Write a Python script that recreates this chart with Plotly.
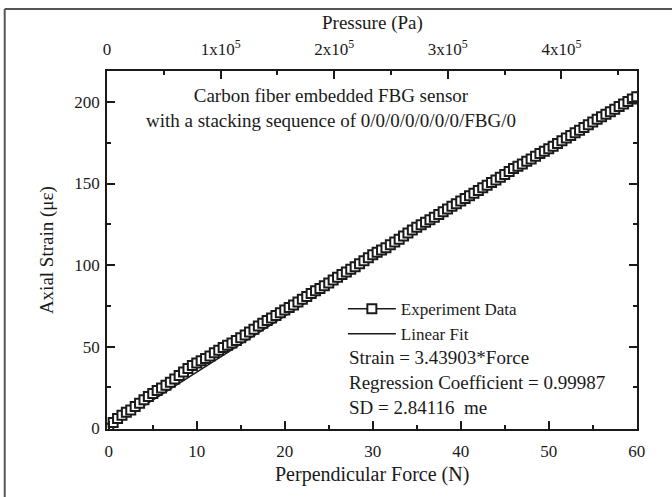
import plotly.graph_objects as go

# ---- data ----
force_n = [0.0, 0.5, 1.0, 1.5, 2.0, 2.5, 3.0, 3.5, 4.0, 4.5, 5.0, 5.5, 6.0, 6.5, 7.0, 7.5, 8.0, 8.5, 9.0, 9.5,
           10.0, 10.5, 11.0, 11.5, 12.0, 12.5, 13.0, 13.5, 14.0, 14.5, 15.0, 15.5, 16.0, 16.5, 17.0, 17.5, 18.0, 18.5, 19.0, 19.5,
           20.0, 20.5, 21.0, 21.5, 22.0, 22.5, 23.0, 23.5, 24.0, 24.5, 25.0, 25.5, 26.0, 26.5, 27.0, 27.5, 28.0, 28.5, 29.0, 29.5,
           30.0, 30.5, 31.0, 31.5, 32.0, 32.5, 33.0, 33.5, 34.0, 34.5, 35.0, 35.5, 36.0, 36.5, 37.0, 37.5, 38.0, 38.5, 39.0, 39.5,
           40.0, 40.5, 41.0, 41.5, 42.0, 42.5, 43.0, 43.5, 44.0, 44.5, 45.0, 45.5, 46.0, 46.5, 47.0, 47.5, 48.0, 48.5, 49.0, 49.5,
           50.0, 50.5, 51.0, 51.5, 52.0, 52.5, 53.0, 53.5, 54.0, 54.5, 55.0, 55.5, 56.0, 56.5, 57.0, 57.5, 58.0, 58.5, 59.0, 59.5,
           60.0]
strain_ue = [0.0, 3.5, 5.9, 8.0, 9.7, 11.2, 13.3, 15.3, 17.4, 19.4, 21.2, 23.1, 24.6, 26.3, 28.2, 30.2, 32.3, 34.4, 36.6, 38.4,
             40.0, 41.4, 42.8, 44.3, 46.2, 47.8, 49.4, 50.9, 52.3, 53.8, 55.4, 57.1, 58.9, 60.7, 62.6, 64.4, 66.0, 67.5, 69.1, 70.8,
             72.4, 74.0, 75.6, 77.3, 79.0, 80.8, 82.6, 84.2, 85.7, 87.4, 89.0, 90.8, 92.6, 94.2, 95.8, 97.4, 99.0, 100.8, 102.6, 104.5,
             106.3, 107.8, 109.2, 110.7, 112.4, 114.1, 115.9, 117.8, 119.6, 121.5, 123.2, 124.8, 126.3, 127.8, 129.3, 131.0, 132.7, 134.4, 136.0, 137.6,
             139.3, 140.9, 142.5, 144.1, 145.7, 147.4, 149.0, 150.6, 152.2, 153.8, 155.6, 157.4, 159.2, 160.6, 162.0, 163.6, 165.1, 166.8, 168.4, 169.8,
             171.3, 172.9, 174.6, 176.3, 177.9, 179.5, 181.1, 182.7, 184.3, 186.0, 187.7, 189.4, 191.0, 192.5, 194.0, 195.6, 197.2, 198.8, 200.3, 201.8,
             203.2]
fit_x = [0.0, 60.0]
fit_y = [0.0, 206.34]

x_ticks = [0, 10, 20, 30, 40, 50, 60]
y_ticks = [0, 50, 100, 150, 200]
pressure_ticks = [0, 100000, 200000, 300000, 400000]
pressure_labels = ["0", "1x10<sup>5</sup>", "2x10<sup>5</sup>", "3x10<sup>5</sup>", "4x10<sup>5</sup>"]

FONT = "Liberation Serif"
INK = "#1a1a1a"

fig = go.Figure()

fig.add_trace(go.Scatter(
    x=fit_x, y=fit_y, mode="lines", name="Linear Fit",
    line=dict(color=INK, width=1.6), legendrank=2, legendgroup="b",
))
fig.add_trace(go.Scatter(
    x=force_n, y=strain_ue, mode="lines+markers", name="Experiment Data",
    line=dict(color=INK, width=1.6),
    marker=dict(symbol="square", size=9, color="white", line=dict(color=INK, width=2)),
    legendrank=1, legendgroup="a",
))
# carrier for the top (pressure) axis
fig.add_trace(go.Scatter(
    x=pressure_ticks, y=[None] * len(pressure_ticks), xaxis="x2", mode="markers",
    showlegend=False, hoverinfo="skip",
))

tickfont = dict(family=FONT, size=17, color=INK)

fig.update_layout(
    width=672, height=497,
    margin=dict(l=107, r=35, t=71, b=68),
    paper_bgcolor="white", plot_bgcolor="white",
    font=dict(family=FONT, size=17, color=INK),
    xaxis=dict(
        range=[-0.2, 60.03], tickvals=x_ticks, ticks="inside", ticklen=8, tickwidth=1.5,
        tickcolor=INK, showline=True, linecolor=INK, linewidth=1.8, showgrid=False,
        zeroline=False, tickfont=tickfont, ticklabelstandoff=6,
        minor=dict(dtick=5, ticks="inside", ticklen=4, tickwidth=1.5, tickcolor=INK, showgrid=False),
    ),
    xaxis2=dict(
        overlaying="x", side="top", anchor="y", range=[0, 466500],
        tickvals=pressure_ticks, ticktext=pressure_labels,
        ticks="inside", ticklen=8, tickwidth=1.5, tickcolor=INK,
        showline=True, linecolor=INK, linewidth=1.8, showgrid=False, zeroline=False,
        tickfont=tickfont, ticklabelstandoff=7,
        minor=dict(dtick=50000, ticks="inside", ticklen=4, tickwidth=1.5, tickcolor=INK, showgrid=False),
    ),
    yaxis=dict(
        range=[-0.5, 219], tickvals=y_ticks, ticks="inside", ticklen=8, tickwidth=1.5,
        tickcolor=INK, showline=True, linecolor=INK, linewidth=1.8, mirror="ticks",
        showgrid=False, zeroline=False, tickfont=tickfont, ticklabelstandoff=2,
        minor=dict(dtick=25, ticks="inside", ticklen=4, tickwidth=1.5, tickcolor=INK, showgrid=False),
    ),
    legend=dict(
        x=0.445, y=0.385, xanchor="left", yanchor="top",
        bgcolor="rgba(0,0,0,0)", borderwidth=0,
        font=dict(family=FONT, size=17, color=INK),
        itemwidth=48, tracegroupgap=0,
    ),
    showlegend=True,
)

ann = [
    dict(text="Perpendicular Force (N)", x=0.5, y=-0.128, size=20),
    dict(text="Pressure (Pa)", x=0.5, y=1.135, size=19),
    dict(text="Axial Strain (\u03bc\u03b5)", x=-0.113, y=0.5, textangle=-90, size=19),
    dict(text="Carbon fiber embedded FBG sensor<br>with a stacking sequence of 0/0/0/0/0/0/0/FBG/0",
         x=0.4226, y=0.898, size=19),
]
for a in ann:
    size = a.pop("size")
    fig.add_annotation(xref="paper", yref="paper", showarrow=False,
                       xanchor="center", yanchor="middle",
                       font=dict(family=FONT, size=size, color=INK), **a)

fit_text = [
    ("Strain = 3.43903*Force", 0.201),
    ("Regression Coefficient = 0.99987", 0.131),
    ("SD = 2.84116&nbsp; me", 0.059),
]
for t, yy in fit_text:
    fig.add_annotation(xref="paper", yref="paper", showarrow=False, x=0.452, y=yy,
                       xanchor="left", yanchor="middle", text=t,
                       font=dict(family=FONT, size=19, color=INK))

# outer frame of the figure (left and top edges visible)
fig.add_shape(type="line", xref="paper", yref="paper", x0=-0.193, x1=-0.193, y0=1.173, y1=-0.2,
              line=dict(color="#555", width=2))
fig.add_shape(type="line", xref="paper", yref="paper", x0=-0.193, x1=1.07, y0=1.173, y1=1.173,
              line=dict(color="#555", width=2))

fig.write_html("out.html")
